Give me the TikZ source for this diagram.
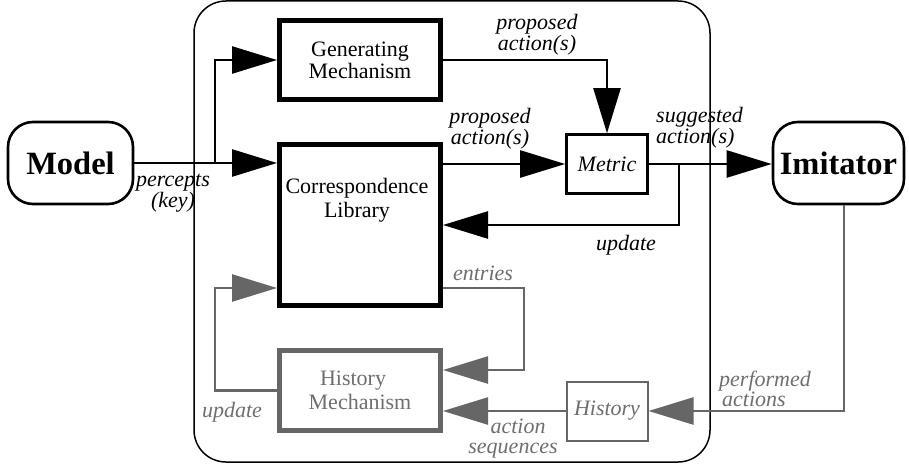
\documentclass[tikz,border=0pt]{standalone}
\usepackage{fontspec}
\setmainfont{Liberation Serif}
\usetikzlibrary{arrows.meta,calc}
\definecolor{gr}{HTML}{666666}
\definecolor{grt}{HTML}{6E6E6E}
\tikzset{
  lbl/.style={font=\itshape\fontsize{22}{18}\selectfont, align=center, inner sep=0pt},
  rbox/.style={draw, line width=2.6pt, rounded corners=25pt, font=\bfseries\fontsize{32.5}{34}\selectfont, inner sep=0pt},
  thickbox/.style={draw, line width=5pt, minimum width=161pt, inner sep=0pt, font=\fontsize{22}{24}\selectfont, align=center},
  smallbox/.style={draw, line width=2.6pt, minimum width=81pt, minimum height=59pt, inner sep=0pt, font=\itshape\fontsize{22}{24}\selectfont},
  conn/.style={line width=2.4pt, -{Triangle[length=45pt,width=27pt]}},
  gconn/.style={line width=2.4pt, draw=gr, -{Triangle[length=45pt,width=27pt,fill=gr]}},
}
\begin{document}
\begin{tikzpicture}[x=1pt,y=-1pt]
\useasboundingbox (0,0) rectangle (909,468);
% outer frame
\draw[line width=1.5pt, rounded corners=32pt] (194,1) rectangle (710,462);
% nodes
\node[rbox, minimum width=125pt, minimum height=82pt] (model) at (70.5,163) {Model};
\node[rbox, minimum width=131pt, minimum height=82pt] (imit) at (838.5,163) {Imitator};
\node[thickbox, minimum height=79pt] (gen) at (360,60) {Generating\\[-2pt]Mechanism};
\node[thickbox, minimum height=161pt] (corr) at (360,225) {};
\node[font=\fontsize{22}{24}\selectfont, align=center, inner sep=0pt] (corrtxt) at (357,200) {Correspondence\\Library};
\node[thickbox, draw=gr, text=grt, minimum height=80pt] (hm) at (360,390.5) {\hspace*{-14pt}History\\Mechanism};
\node[smallbox] (metric) at (607,164) {Metric};
\node[smallbox, draw=gr, text=grt, line width=2pt] (hist) at (607,411) {History};
% coordinates
\coordinate (br1) at (215,163);
\coordinate (br2) at (679,164);
\coordinate (entA) at (524,288);
\coordinate (entB) at (524,370);
\coordinate (perf) at (844,411);
\coordinate (upd) at (215,288);
% black connectors
\draw[conn] (model.east) -- (corr.west |- model.east);
\draw[conn] (br1) |- (gen.west);
\draw[conn] (gen.east) -| (metric.north);
\draw[conn] (corr.east |- metric.west) -- (metric.west);
\draw[conn] (metric.east) -- (imit.west |- metric.east);
\draw[conn] (br2) |- (corr.east);
% gray connectors
\draw[gconn] (corr.east |- entA) -- (entA) -- (entB) -- (hm.east |- entB);
\draw[gconn] (hist.west) -- (hm.east |- hist.west);
\draw[gconn] (imit.south -| perf) -- (perf) -- (hist.east);
\draw[gconn] (hm.west) -| (upd) -- (corr.west |- upd);
% labels
\node[lbl, font=\itshape\fontsize{22}{21}\selectfont] (l1) at (537,35) {proposed\\action(s)};
\node[lbl] (l2) at (490,129) {proposed\\action(s)};
\node[lbl, align=left, anchor=west] (l3) at (656,128) {suggested\\action(s)};
\node[lbl] (l4) at (626,245) {update};
\node[lbl, font=\itshape\fontsize{22}{21}\selectfont] (l5) at (173,193) {percepts\\(key)};
\node[lbl, text=grt] (l6) at (483,273) {entries};
\node[lbl, text=grt, font=\itshape\fontsize{22}{20}\selectfont] (l7) at (513,439) {\hspace*{10pt}action\\sequences};
\node[lbl, text=grt, align=left, anchor=west, font=\itshape\fontsize{22}{16}\selectfont] (l8) at (719,389) {performed\\\hspace*{3pt}actions};
\node[lbl, text=grt] (l9) at (232,412) {update};
\end{tikzpicture}
\end{document}
